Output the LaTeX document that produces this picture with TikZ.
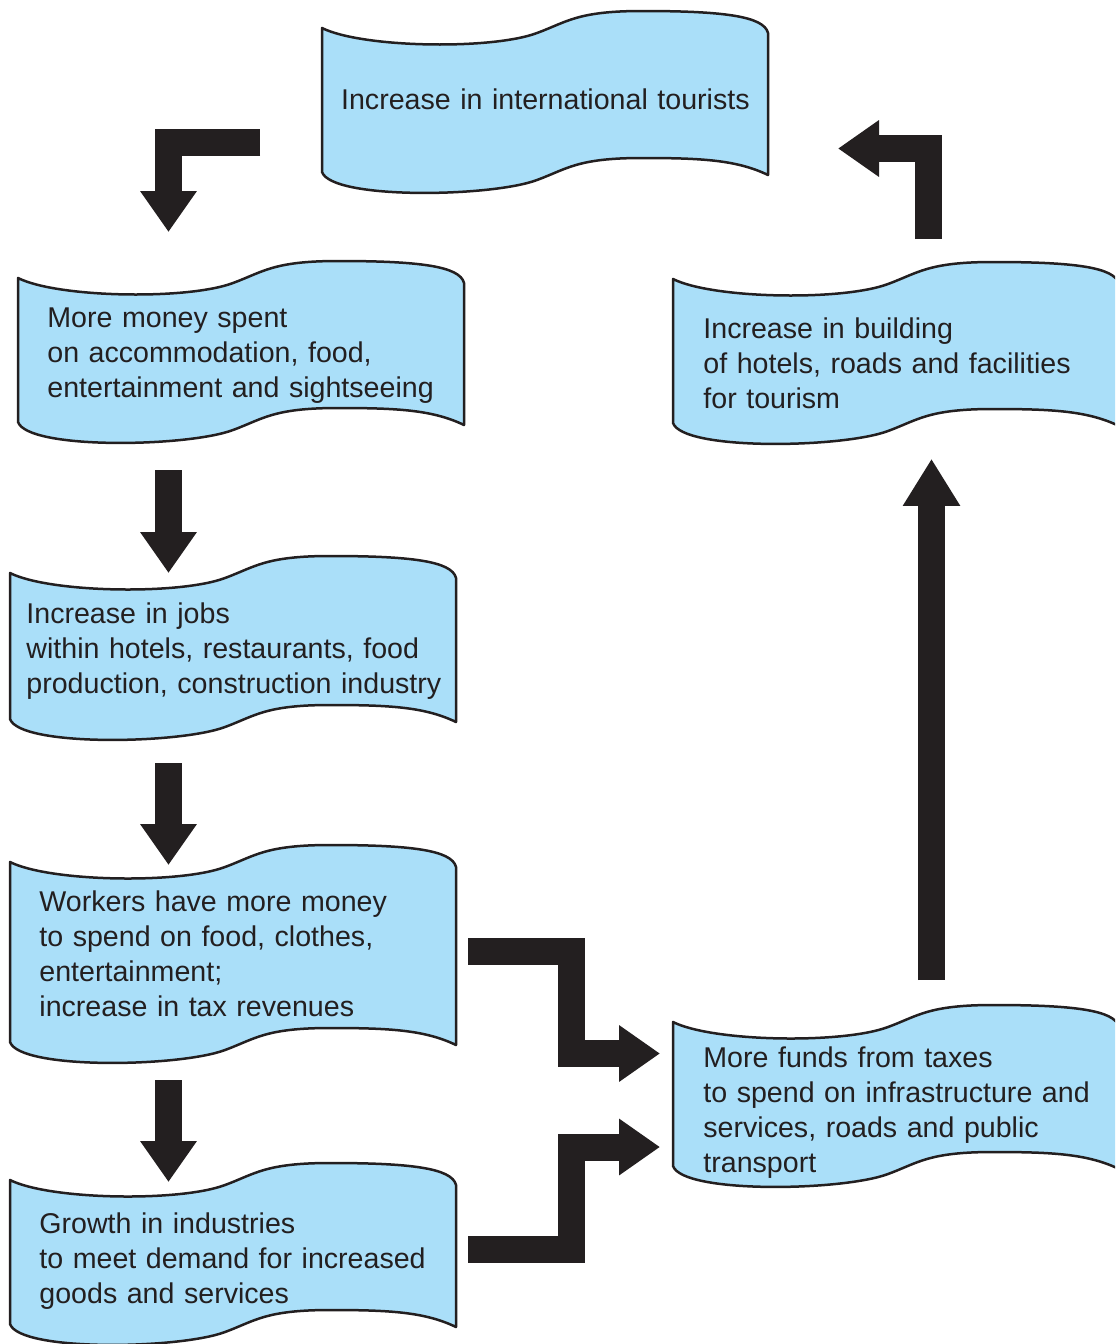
\documentclass[tikz,border=0pt]{standalone}
\usepackage{fontspec}
\setmainfont{Liberation Sans}
\usetikzlibrary{arrows.meta,calc,backgrounds}

\definecolor{bannerblue}{RGB}{170,223,249}
\definecolor{inkblack}{RGB}{35,31,32}

\tikzset{
  banner/.style={anchor=north west,minimum width=223pt,minimum height=73.5pt,
    text width=212pt,align=left,inner xsep=14.5pt,text=inkblack,
    font=\fontsize{14.3}{17.5}\selectfont},
  bannerline/.style={draw=inkblack,fill=bannerblue,line width=1.25pt,line join=round},
  fat/.style={draw=inkblack,line width=13.5pt,-{Triangle[length=20.5pt,width=27pt]}}
}

\begin{document}
\begin{tikzpicture}[x=0.5pt,y=-0.5pt]
  \useasboundingbox (0,0) rectangle (1115,1344);

  \node[banner,align=center,text width=215pt,inner xsep=4pt] (tour) at (322,25) {Increase in international tourists};
  \node[banner] (spend) at (18,282) {More money spent\\on accommodation, food,\\entertainment and sightseeing};
  \node[banner,inner xsep=8pt] (jobs) at (10,577) {Increase in jobs\\within hotels, restaurants, food\\production, construction industry};
  \node[banner,minimum height=91.5pt] (workers) at (10,862) {Workers have more money\\to spend on food, clothes,\\entertainment;\\increase in tax revenues};
  \node[banner] (growth) at (10,1187) {Growth in industries\\to meet demand for increased\\goods and services};
  \node[banner,inner xsep=15pt] (build) at (673,289) {Increase in building\\of hotels, roads and facilities\\for tourism};
  \node[banner,inner xsep=15pt] (funds) at (673,1039) {More funds from taxes\\to spend on infrastructure and\\services, roads and public\\transport};

  % wavy outlines behind the texts
  \begin{scope}[on background layer]
    \clip (0,0) rectangle (1115,1344);
    \foreach \b/\h/\d in {tour/147/-3,spend/147/4,jobs/149/4,workers/183/0,growth/147/7,build/147/10,funds/147/17}
      \draw[bannerline,shift={($(\b.north west)+(0,-\d)$)}]
        (0,0) .. controls (40,20) and (170,22) .. (215,5)
        .. controls (245,-6) and (255,-17) .. (320,-17)
        .. controls (400,-17) and (442,-12) .. (446,5)
        -- (446,\h)
        .. controls (415,\h-15) and (380,\h-17) .. (320,\h-17)
        .. controls (255,\h-17) and (245,\h-6) .. (215,\h+5)
        .. controls (170,\h+22) and (10,\h+25) .. (0,\h-3) -- cycle;
  \end{scope}

  \draw[fat] ($(tour.north west)+(-62,117)$) -| ($(spend.north west)+(150.5,-50)$);
  \foreach \from/\to/\sx/\sy/\ey in {spend/jobs/150.5/188/-4,jobs/workers/158.5/186/3,workers/growth/158.5/218/-5}
    \draw[fat] ($(\from.north west)+(\sx,\sy)$) -- ($(\to.north west)+(158.5,\ey)$);
  \draw[fat] ($(workers.north west)+(458,89)$) -| ($(funds.north west)+(-101.5,14.5)$) -- ($(funds.north west)+(-13,14.5)$);
  \draw[fat] ($(growth.north west)+(458,62)$) -| ($(funds.north west)+(-101.5,108)$) -- ($(funds.north west)+(-13,108)$);
  \draw[fat,-{Triangle[length=23.5pt,width=27pt]}] ($(funds.north west)+(258.5,-59)$) -- ($(build.south west)+(258.5,22)$);
  \draw[fat] ($(build.north west)+(255,-50)$) |- ($(tour.north west)+(516,123.5)$);

\end{tikzpicture}
\end{document}
